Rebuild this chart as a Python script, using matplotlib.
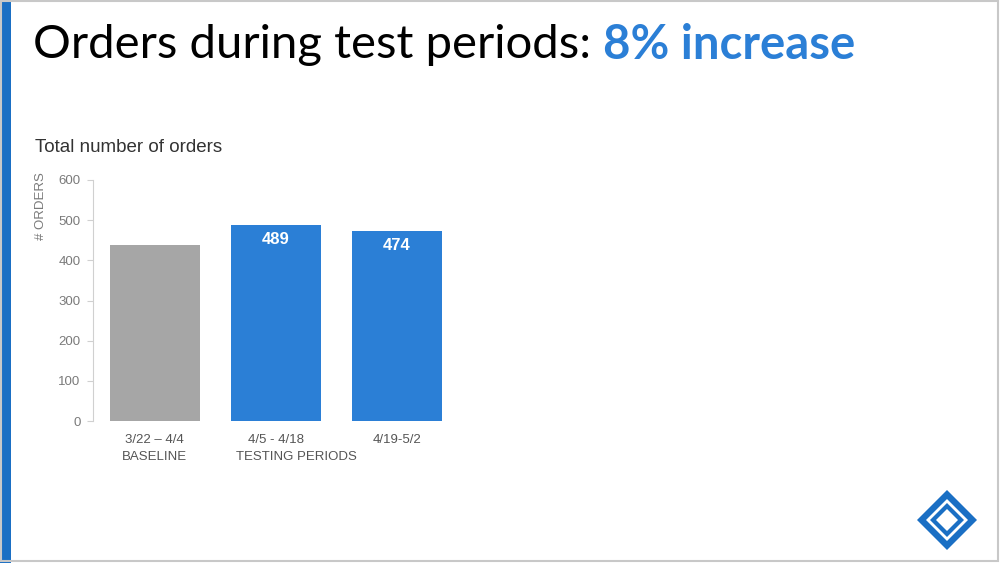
import matplotlib.pyplot as plt
from matplotlib.patches import Polygon, Rectangle

periods = ['3/22 – 4/4', '4/5 - 4/18', '4/19-5/2']
orders = [437, 489, 474]
bar_colors = ['#a6a6a6', '#2b7fd6', '#2b7fd6']
value_labels = ['', '489', '474']
group_labels = ['BASELINE', 'TESTING PERIODS']
group_pos = [0, 1.17]
y_ticks = [0, 100, 200, 300, 400, 500, 600]

blue = '#2b7fd6'
gray_text = '#7a7a7a'

fig = plt.figure(figsize=(10, 5.63), dpi=100)

# slide decoration in pixel coords
deco = fig.add_axes([0, 0, 1, 1], zorder=0)
deco.set_xlim(0, 1000)
deco.set_ylim(563, 0)
deco.axis('off')
deco.add_patch(Rectangle((0, 0), 11, 563, color='#1a6fc4', lw=0))
deco.add_patch(Rectangle((1, 1), 997, 560, fill=False, ec='#c8c8c8', lw=1.5))

cx, cy = 947, 520
for half, col in [(30, '#1a6fc4'), (21, 'white'), (17, '#1a6fc4'), (11, 'white')]:
    deco.add_patch(Polygon([(cx - half, cy), (cx, cy - half), (cx + half, cy), (cx, cy + half)],
                           closed=True, color=col, lw=0))

t1 = deco.text(33, 45, 'Orders during test periods: ', fontsize=34, family='Lato',
               color='black', va='center', ha='left')
fig.canvas.draw()
bb = t1.get_window_extent(fig.canvas.get_renderer())
deco.text(bb.x1 / fig.dpi / 10 * 1000, 45, '8% increase', fontsize=34, family='Lato',
          weight='bold', color=blue, va='center', ha='left')

deco.text(35, 147, 'Total number of orders', fontsize=13.5, family='Liberation Sans',
          color='#333333', va='center', ha='left')

# chart
ax = fig.add_axes([0.093, 0.2522, 0.3645, 0.4281], zorder=1)
ax.patch.set_alpha(0)
x = list(range(len(periods)))
bars = ax.bar(x, orders, width=0.74, color=bar_colors)
for b, lab in zip(bars, value_labels):
    if lab:
        ax.text(b.get_x() + b.get_width() / 2, b.get_height() - 38, lab, ha='center', va='center',
                color='white', weight='bold', fontsize=12, family='Liberation Sans')

ax.set_xlim(-0.51, 2.5)
ax.set_ylim(0, 600)
ax.set_yticks(y_ticks)
ax.set_xticks(x)
ax.set_xticklabels(periods)
for s in ['top', 'right', 'bottom']:
    ax.spines[s].set_visible(False)
ax.spines['left'].set_color('#d0d0d0')
ax.tick_params(axis='y', colors='#d0d0d0', labelcolor=gray_text, labelsize=9.5, length=4, pad=5)
ax.tick_params(axis='x', length=0, labelcolor='#555555', labelsize=9.5, pad=9)
for lbl in ax.get_xticklabels() + ax.get_yticklabels():
    lbl.set_family('Liberation Sans')

for lab, pos in zip(group_labels, group_pos):
    ax.text(pos, -0.125, lab, transform=ax.get_xaxis_transform(), ha='center', va='top',
            color='#555555', fontsize=9.5, family='Liberation Sans')

ax.set_ylabel('# ORDERS', color=gray_text, fontsize=9.5, family='Liberation Sans')
ax.yaxis.set_label_coords(-0.125, 0.89)

plt.savefig('out.png', dpi=100)
